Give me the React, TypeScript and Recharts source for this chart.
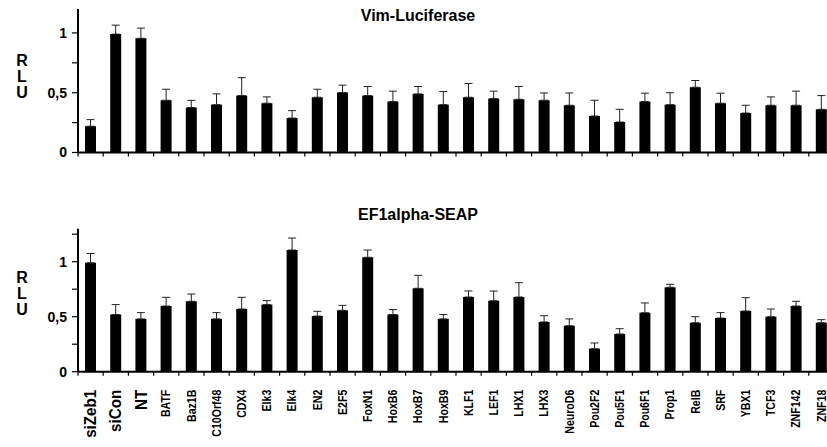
import React from "react";
import { BarChart, Bar, XAxis, YAxis, ErrorBar } from "recharts";

const categories = [
  "siZeb1", "siCon", "NT", "BATF", "Baz1B", "C10Orf48", "CDX4", "Elk3", "Elk4", "EN2",
  "E2F5", "FoxN1", "HoxB6", "HoxB7", "HoxB9", "KLF1", "LEF1", "LHX1", "LHX3", "NeuroD6",
  "Pou2F2", "Pou5F1", "Pou6F1", "Prop1", "RelB", "SRF", "YBX1", "TCF3", "ZNF142", "ZNF18",
];

// Vim-Luciferase (top panel)
const vimValues = [
  0.22, 0.99, 0.955, 0.437, 0.376, 0.4, 0.476, 0.412, 0.288, 0.462,
  0.502, 0.476, 0.426, 0.49, 0.4, 0.462, 0.451, 0.445, 0.437, 0.395,
  0.305, 0.255, 0.426, 0.4, 0.546, 0.412, 0.33, 0.395, 0.395, 0.361,
];
const vimErrors = [
  0.055, 0.075, 0.085, 0.092, 0.06, 0.09, 0.15, 0.053, 0.062, 0.067,
  0.061, 0.076, 0.087, 0.062, 0.11, 0.115, 0.062, 0.107, 0.061, 0.103,
  0.132, 0.106, 0.07, 0.1, 0.056, 0.084, 0.065, 0.07, 0.118, 0.115,
];

// EF1alpha-SEAP (bottom panel)
const seapValues = [
  0.99, 0.52, 0.48, 0.597, 0.64, 0.48, 0.57, 0.61, 1.106, 0.506,
  0.558, 1.04, 0.52, 0.758, 0.48, 0.679, 0.645, 0.679, 0.452, 0.418,
  0.209, 0.343, 0.536, 0.767, 0.445, 0.488, 0.552, 0.5, 0.597, 0.445,
];
const seapErrors = [
  0.085, 0.09, 0.057, 0.079, 0.066, 0.057, 0.106, 0.036, 0.109, 0.043,
  0.045, 0.066, 0.045, 0.118, 0.04, 0.055, 0.088, 0.13, 0.057, 0.062,
  0.052, 0.048, 0.089, 0.028, 0.055, 0.049, 0.121, 0.07, 0.043, 0.028,
];

const bigLabels = ["siZeb1", "siCon", "NT"];
const vimTicks = [0, 0.25, 0.5, 0.75, 1];
const seapTicks = [0, 0.25, 0.5, 0.75, 1, 1.25];
const axisLetters = ["R", "L", "U"];

const FONT = "'Liberation Sans', Arial, Helvetica, sans-serif";
const BAND = 756 / 30;

const vimData = categories.map((name, i) => ({
  name,
  value: vimValues[i],
  err: [0, vimErrors[i]],
}));
const seapData = categories.map((name, i) => ({
  name,
  value: seapValues[i],
  err: [0, seapErrors[i]],
}));

const fmtY = (v: number) => (v === 0 ? "0" : v === 0.5 ? "0,5" : v === 1 ? "1" : "");

function BoundaryTick(props: any) {
  const { x, y, payload, showLabels } = props;
  const left = x - BAND / 2;
  const big = bigLabels.includes(payload.value);
  return (
    <g>
      <line x1={left} y1={y} x2={left} y2={y + 4} stroke="#000" strokeWidth={1.2} />
      {showLabels && (
        <text
          transform={`translate(${x},${y + 18}) rotate(-90) scale(${big ? 0.95 : 0.88},1)`}
          textAnchor="end"
          dy="0.35em"
          fill="#000"
          fontSize={big ? 16 : 12}
          fontWeight={700}
          fontFamily={FONT}
        >
          {payload.value}
        </text>
      )}
    </g>
  );
}

function Panel({ data, domain, ticks, height, marginTop, xHeight, marginBottom, showLabels }: any) {
  return (
    <BarChart
      width={840}
      height={height}
      data={data}
      barSize={11}
      margin={{ top: marginTop, right: 6, bottom: marginBottom, left: 0 }}
    >
      <XAxis
        dataKey="name"
        interval={0}
        height={xHeight}
        tickSize={0}
        tickMargin={0}
        tickLine={false}
        axisLine={{ stroke: "#000", strokeWidth: 2 }}
        tick={<BoundaryTick showLabels={showLabels} />}
      />
      <YAxis
        width={78}
        domain={domain}
        ticks={ticks}
        interval={0}
        tickFormatter={fmtY}
        tickSize={6}
        tickMargin={5}
        axisLine={{ stroke: "#000", strokeWidth: 2 }}
        tickLine={{ stroke: "#000", strokeWidth: 1.2 }}
        tick={{ fill: "#000", fontSize: 14, fontWeight: 700, fontFamily: FONT }}
      />
      <Bar dataKey="value" fill="#000" isAnimationActive={false}>
        <ErrorBar dataKey="err" width={4} stroke="#222" strokeWidth={1} direction="y" />
      </Bar>
    </BarChart>
  );
}

const titleStyle: React.CSSProperties = {
  position: "absolute",
  left: 418,
  transform: "translateX(-50%)",
  fontSize: 16,
  lineHeight: "18px",
  fontWeight: 700,
  whiteSpace: "nowrap",
};

function AxisLetters({ top }: { top: number }) {
  return (
    <>
      {axisLetters.map((ch, i) => (
        <div
          key={ch}
          style={{
            position: "absolute",
            left: 14,
            top: top + i * 16,
            width: 16,
            height: 16,
            textAlign: "center",
            fontSize: 16,
            lineHeight: "16px",
            fontWeight: 700,
          }}
        >
          {ch}
        </div>
      ))}
    </>
  );
}

export default function App() {
  return (
    <div
      style={{
        position: "absolute",
        left: 0,
        top: 0,
        width: 827,
        height: 447,
        overflow: "hidden",
        background: "#fff",
        fontFamily: FONT,
        color: "#000",
      }}
    >
      <div style={{ position: "absolute", left: 0, top: 0 }}>
        <Panel
          data={vimData}
          domain={[0, 1.2]}
          ticks={vimTicks}
          height={170}
          marginTop={9}
          xHeight={10.5}
          marginBottom={7}
          showLabels={false}
        />
      </div>
      <div style={{ position: "absolute", left: 0, top: 200 }}>
        <Panel
          data={seapData}
          domain={[0, 1.3]}
          ticks={seapTicks}
          height={247}
          marginTop={28.7}
          xHeight={75.3}
          marginBottom={0}
          showLabels={true}
        />
      </div>
      <div style={{ ...titleStyle, top: 7 }}>Vim-Luciferase</div>
      <div style={{ ...titleStyle, top: 206 }}>EF1alpha-SEAP</div>
      <AxisLetters top={53} />
      <AxisLetters top={270} />
    </div>
  );
}
